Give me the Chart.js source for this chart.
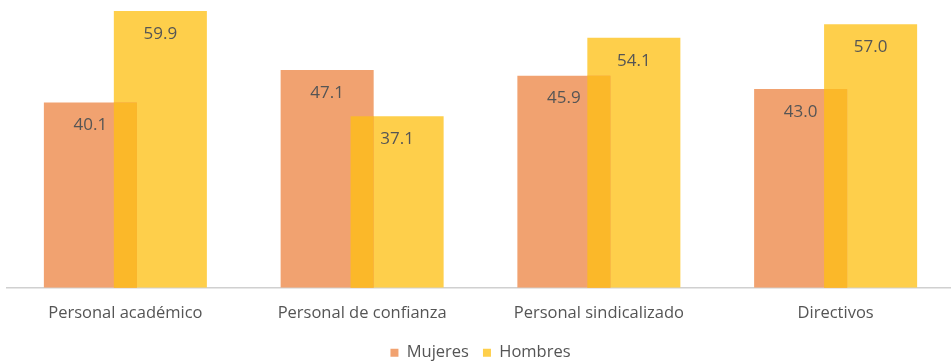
<!DOCTYPE html>
<html>
<head>
<meta charset="utf-8">
<script src="https://cdn.jsdelivr.net/npm/chart.js@4/dist/chart.umd.min.js"></script>
<style>
  html, body { margin: 0; padding: 0; background: #fff; overflow: hidden; }
  #wrap { width: 951px; height: 361px; overflow: hidden; position: relative; }
  #c { position: absolute; left: 0; top: 0; }
</style>
</head>
<body>
<div id="wrap"><canvas id="c" width="956" height="361"></canvas></div>
<script>
const categories = ["Personal académico", "Personal de confianza", "Personal sindicalizado", "Directivos"];
const mujeres = [40.1, 47.1, 45.9, 43.0];
const hombres = [59.9, 37.1, 54.1, 57.0];
const seriesNames = ["Mujeres", "Hombres"];

const COL_M = "#F1A270";
const COL_H = "#FECF4B";
const COL_OVER = "#FBB829";
const TEXT = "#555555";
const FONT = "'Open Sans', 'Noto Sans', sans-serif";

const overlapPlugin = {
  id: "overlap",
  afterDatasetsDraw(chart) {
    const ctx = chart.ctx;
    const m0 = chart.getDatasetMeta(0), m1 = chart.getDatasetMeta(1);
    ctx.save();
    ctx.fillStyle = COL_OVER;
    m0.data.forEach((a, i) => {
      const b = m1.data[i];
      const pa = a.getProps(["x", "y", "base", "width"], true);
      const pb = b.getProps(["x", "y", "base", "width"], true);
      const l = Math.max(pa.x - pa.width / 2, pb.x - pb.width / 2);
      const r = Math.min(pa.x + pa.width / 2, pb.x + pb.width / 2);
      const t = Math.max(pa.y, pb.y);
      const btm = Math.min(pa.base, pb.base);
      if (r > l && btm > t) ctx.fillRect(l, t, r - l, btm - t);
    });
    ctx.restore();
  }
};

const labelPlugin = {
  id: "vlabels",
  afterDatasetsDraw(chart) {
    const ctx = chart.ctx;
    ctx.save();
    ctx.fillStyle = TEXT;
    ctx.font = "17px " + FONT;
    ctx.textAlign = "center";
    ctx.textBaseline = "middle";
    chart.data.datasets.forEach((ds, di) => {
      chart.getDatasetMeta(di).data.forEach((el, i) => {
        const p = el.getProps(["x", "y"], true);
        ctx.fillText(ds.data[i].toFixed(1), p.x, p.y + 23);
      });
    });
    ctx.restore();
  }
};

new Chart(document.getElementById("c"), {
  type: "bar",
  data: {
    labels: categories,
    datasets: [
      { label: seriesNames[0], data: mujeres, backgroundColor: COL_M, borderWidth: 0,
        categoryPercentage: 0.591, barPercentage: 1.33 },
      { label: seriesNames[1], data: hombres, backgroundColor: COL_H, borderWidth: 0,
        categoryPercentage: 0.591, barPercentage: 1.33 }
    ]
  },
  options: {
    responsive: false,
    animation: false,
    layout: { padding: { top: 10.5, left: 7, right: 2, bottom: -10 } },
    scales: {
      x: {
        grid: { display: false, drawTicks: false },
        border: { display: true, color: "#D0D0D0", width: 1.5 },
        ticks: { color: TEXT, font: { size: 16.5, family: FONT }, padding: 16 },
        afterFit(scale) { scale.height -= 9; }
      },
      y: { display: false, min: 0, max: 60 }
    },
    plugins: {
      legend: {
        position: "bottom",
        labels: { color: TEXT, font: { size: 16.5, family: FONT }, boxWidth: 8, boxHeight: 8, padding: 14 }
      },
      tooltip: { enabled: false }
    }
  },
  plugins: [overlapPlugin, labelPlugin]
});
</script>
</body>
</html>
